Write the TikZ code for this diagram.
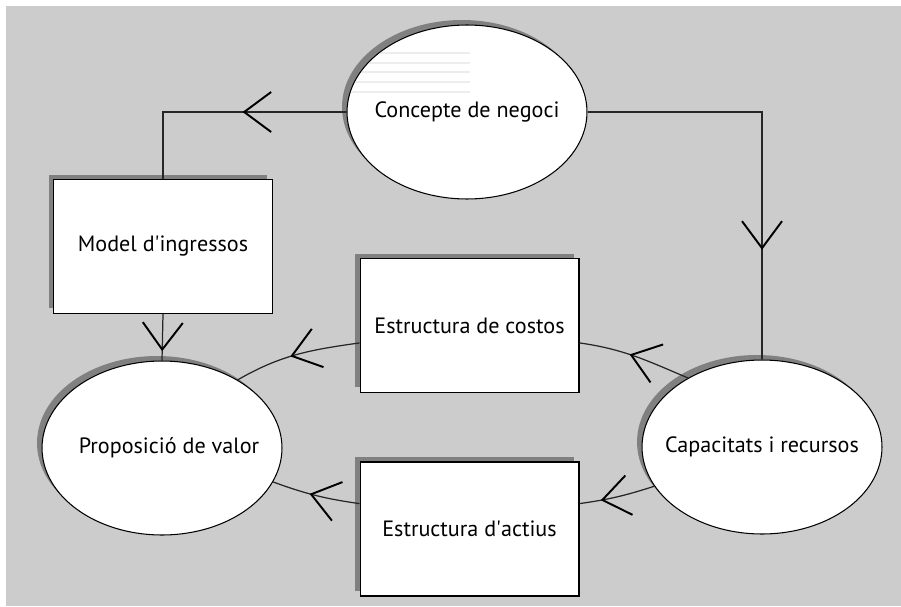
\documentclass[tikz,border=0pt]{standalone}
\usepackage{fontspec}
\setmainfont{PT Sans}
\usetikzlibrary{shapes.geometric}
\usetikzlibrary{shadows}
\usetikzlibrary{arrows.meta}
\usetikzlibrary{decorations.markings}

\begin{document}
\begin{tikzpicture}[x=0.02cm,y=0.02cm,
  font=\fontsize{12.6}{15}\selectfont,
  shade/.style={drop shadow={shadow xshift=-0.1cm,shadow yshift=0.1cm,fill=black!50,opacity=1}},
  oval/.style={ellipse,draw,line width=0.6pt,fill=white,inner xsep=-0.6cm,inner ysep=0pt,minimum width=4.8cm,minimum height=3.48cm,shade},
  box/.style={rectangle,draw,line width=0.6pt,fill=white,inner sep=0pt,minimum width=4.38cm,minimum height=2.68cm,shade},
  link/.style={line width=0.7pt,draw=black!85},
  barb/.tip={Straight Barb[length=0.54cm,width=0.8cm,line width=1.1pt]},
  tipmid/.style={postaction={decorate},decoration={markings,mark=at position #1 with {\arrow[black]{barb}}}}]
 \useasboundingbox (0,0) rectangle (901,606);
 \fill[black!20] (6,0) rectangle (901,600);

 \node[oval] (negoci) at (467,494) {Concepte de negoci};
 \node[oval] (valor) at (162,158) {\hspace*{0.28cm}Proposició de valor};
 \node[oval] (recursos) at (762,159) {Capacitats i recursos};
 \node[box] (ingressos) at (163,359.5) {Model d\textquotesingle ingressos};
 \node[box] (costos) at (469.5,280.5) {Estructura de costos};
 \node[box] (actius) at (469.5,77) {Estructura d\textquotesingle actius};

 \begin{scope}
  \clip (negoci.center) ellipse [x radius=2.38cm,y radius=1.72cm];
  \foreach \y in {553,543,534,524,514}
   \draw[black!7,line width=0.6pt] (350,\y) -- (470,\y);
 \end{scope}

 \draw[link,tipmid=0.415] (negoci.west) -| (ingressos.north);
 \draw[link,tipmid=0.74] (negoci.east) -| (recursos.north);
 \draw[link,tipmid=0.8] (ingressos.south) -- (valor.north);

 \draw[link,tipmid=0.55] (recursos.137) to[out=157,in=-8] (costos.-9);
 \draw[link,tipmid=0.55] (costos.189) to[out=188,in=30] (valor.42);
 \draw[link,tipmid=0.72] (recursos.200) to[out=198,in=8] (actius.13);
 \draw[link,tipmid=0.57] (actius.167) to[out=172,in=-20] (valor.-17);
\end{tikzpicture}
\end{document}
